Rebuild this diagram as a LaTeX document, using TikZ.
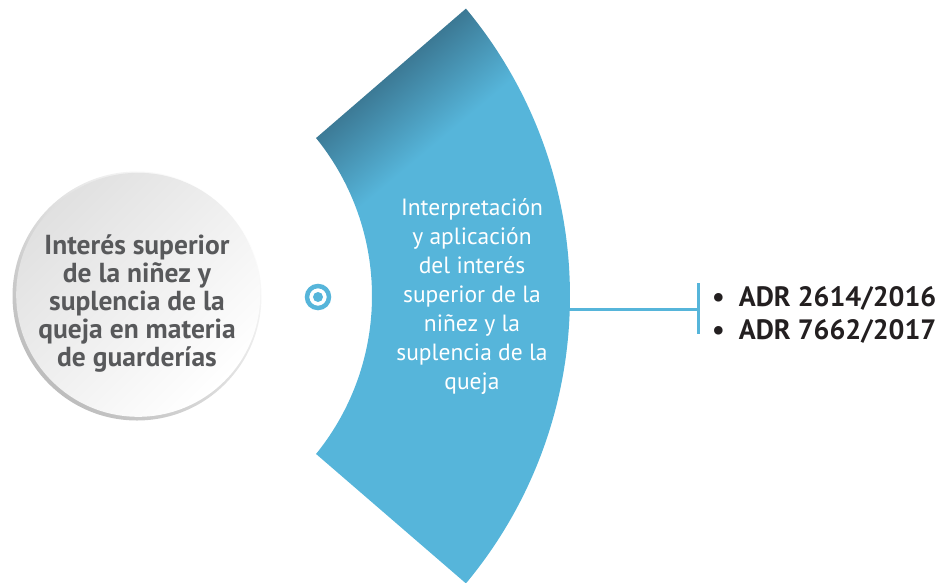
\documentclass[tikz,border=0pt]{standalone}
\usepackage{fontspec}
\setmainfont{PT Sans}
\usetikzlibrary{calc}
\definecolor{blueM}{HTML}{56B5DA}
\definecolor{blueD}{HTML}{3A7590}
\definecolor{greyT}{HTML}{58595B}
\definecolor{darkT}{HTML}{231F20}
\pgfdeclarehorizontalshading{sectorshade}{100bp}{color(0bp)=(blueD); color(25bp)=(blueD); color(35bp)=(blueM); color(100bp)=(blueM)}
\pgfdeclarehorizontalshading{rimshade}{100bp}{color(0bp)=(black!26); color(25bp)=(black!26); color(75bp)=(white); color(100bp)=(white)}
\pgfdeclarehorizontalshading{innershade}{100bp}{color(0bp)=(black!12); color(25bp)=(black!12); color(75bp)=(white); color(100bp)=(white)}
\tikzset{
  conn/.style={draw=blueM, line width=3pt},
  circtext/.style={font=\fontsize{27.5}{28}\selectfont\bfseries, text=greyT, align=center, inner sep=0pt},
  bluetext/.style={font=\fontsize{23.5}{29}\selectfont, text=white, align=center, inner sep=0pt},
  listtext/.style={font=\fontsize{28}{33}\selectfont\bfseries, text=darkT, align=left, inner sep=0pt, anchor=west}
}
\begin{document}
\begin{tikzpicture}[x=1pt,y=-1pt]
\useasboundingbox (0,0) rectangle (946,582);
\coordinate (C) at (121,296);
% grey circle
\path[shading=rimshade, shading angle=45] (137,296) circle (124.5);
\path[shading=innershade, shading angle=-45] (138.2,294.8) circle (122);
\node[circtext] (circ) at (137,304) {Interés superior\\de la niñez y\\suplencia de la\\queja en materia\\de guarderías};
% sector
\path[shading=sectorshade, shading angle=-50]
  ($(C)+(-39.8:449)$) arc[start angle=-39.8, end angle=39.8, radius=449]
  -- ($(C)+(39:251)$) arc[start angle=39, end angle=-39, radius=251] -- cycle;
\node[bluetext] (sect) at (472,297) {Interpretación\\y aplicación\\del interés\\superior de la\\niñez y la\\suplencia de la\\queja};
% target
\draw[blueM, line width=4.5pt] (318,297) circle (11);
\fill[blueM] (318,297) circle (5);
% connector
\coordinate (s) at (569,309);
\coordinate (b) at (698,309);
\coordinate (bt) at (698,283);
\coordinate (bb) at (698,334);
\draw[conn] (s) -- (b);
\draw[conn] (bt) -- (bb);
\node[listtext] (list) at (712,315) {\textbullet\hspace{14pt}ADR 2614/2016\\\textbullet\hspace{14pt}ADR 7662/2017};
\end{tikzpicture}
\end{document}
